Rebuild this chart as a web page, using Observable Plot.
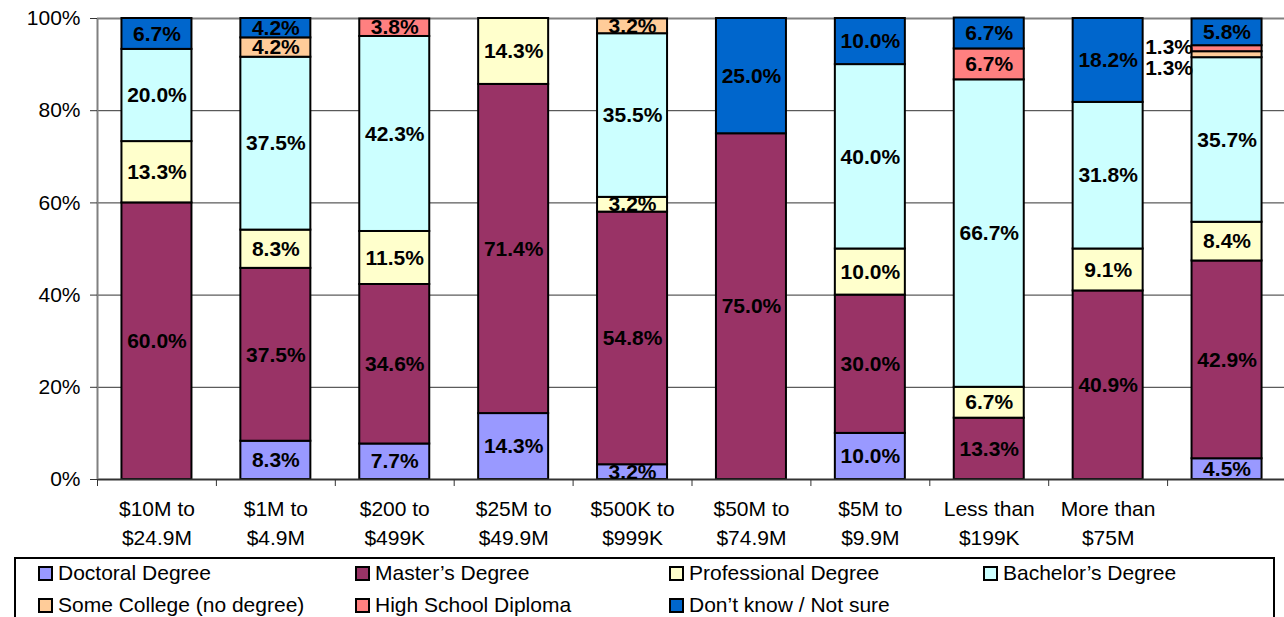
<!DOCTYPE html>
<html>
<head>
<meta charset="utf-8">
<script src="https://cdn.jsdelivr.net/npm/d3@7"></script>
<script src="https://cdn.jsdelivr.net/npm/@observablehq/plot@0.6"></script>
<style>
  html, body { margin: 0; padding: 0; background: #fff; }
  body { font-family: Arial, "Liberation Sans", sans-serif; width: 1284px; height: 617px; overflow: hidden; }
  #chart svg { display: block; }
  #legend {
    margin-left: 14px; margin-top: 4px; width: 1261px; height: 80px;
    border: 2px solid #000; box-sizing: border-box;
    display: grid; grid-template-columns: 317px 314px 314px 314px;
    grid-auto-rows: 32px; padding-left: 22px; padding-top: 0px;
    font-size: 21px; color: #000;
  }
  .item { display: flex; align-items: center; white-space: nowrap; position: relative; top: -2px; }
  .sw { width: 11px; height: 11px; border: 2px solid #000; margin-right: 5px; flex: none; }
</style>
</head>
<body>
<div id="chart"></div>
<div id="legend"></div>
<script>
const categories = ["$10M to\n$24.9M", "$1M to\n$4.9M", "$200 to\n$499K", "$25M to\n$49.9M", "$500K to\n$999K", "$50M to\n$74.9M", "$5M to\n$9.9M", "Less than\n$199K", "More than\n$75M", " "];
const series = ["Doctoral Degree", "Master’s Degree", "Professional Degree", "Bachelor’s Degree", "Some College (no degree)", "High School Diploma", "Don’t know / Not sure"];
const colors = ["#9999FF", "#993366", "#FFFFCC", "#CCFFFF", "#FFCC99", "#FF8080", "#0066CC"];
const doctoral     = [0, 8.3, 7.7, 14.3, 3.2, 0, 10.0, 0, 0, 4.5];
const masters      = [60.0, 37.5, 34.6, 71.4, 54.8, 75.0, 30.0, 13.3, 40.9, 42.9];
const professional = [13.3, 8.3, 11.5, 14.3, 3.2, 0, 10.0, 6.7, 9.1, 8.4];
const bachelors    = [20.0, 37.5, 42.3, 0, 35.5, 0, 40.0, 66.7, 31.8, 35.7];
const someCollege  = [0, 4.2, 0, 0, 3.2, 0, 0, 0, 0, 1.3];
const highSchool   = [0, 0, 3.8, 0, 0, 0, 0, 6.7, 0, 1.3];
const dontKnow     = [6.7, 4.2, 0, 0, 0, 25.0, 10.0, 6.7, 18.2, 5.8];
const yTicks = [0, 20, 40, 60, 80, 100];

const valuesBySeries = [doctoral, masters, professional, bachelors, someCollege, highSchool, dontKnow];

const rows = [];
categories.forEach((cat, i) => {
  let acc = 0;
  series.forEach((s, j) => {
    const v = valuesBySeries[j][i];
    const y1 = acc, y2 = acc + v;
    acc = y2;
    if (v > 0) rows.push({cat, series: s, value: v, y1, y2, mid: (y1 + y2) / 2, label: v.toFixed(1) + "%"});
  });
});

const W = 1284, H = 553;
const x0 = 97, x1 = 1286;
const step = (x1 - x0) / categories.length;
const inset = (step - 70) / 2;
const font = "Arial, 'Liberation Sans', sans-serif";

const big = rows.filter(d => d.value >= 2);
const smallHS = rows.filter(d => d.value < 2 && d.series === series[5]);
const smallSC = rows.filter(d => d.value < 2 && d.series === series[4]);

const plot = Plot.plot({
  width: W, height: H,
  marginTop: 18, marginBottom: 74, marginLeft: 97, marginRight: 0,
  style: {fontFamily: font, fontSize: "21px", background: "#fff", color: "#000", overflow: "visible"},
  x: {domain: categories, range: [x0, x1], padding: 0, round: false, label: null},
  y: {domain: [0, 100], label: null},
  color: {domain: series, range: colors},
  marks: [
    Plot.gridY([20, 40, 60, 80], {stroke: "#333", strokeOpacity: 1, strokeWidth: 1}),
    Plot.ruleY([100], {stroke: "#808080", strokeWidth: 2}),
    Plot.rectY(rows, {x: "cat", y1: "y1", y2: "y2", fill: "series", stroke: "#000", strokeWidth: 2, insetLeft: inset, insetRight: inset}),
    Plot.ruleY([0], {stroke: "#333", strokeWidth: 2}),
    Plot.ruleX([categories[0]], {x: d => d, dx: -step / 2, stroke: "#808080", strokeWidth: 2}),
    Plot.axisY(yTicks, {tickSize: 7, tickPadding: 10, tickFormat: d => d + "%", fontSize: 21, stroke: "#333", label: null}),
    Plot.axisX({tickSize: 7, dx: -step / 2, tickFormat: () => "", stroke: "#333", label: null}),
    Plot.axisX({tickSize: 0, tickPadding: 16, fontSize: 21, lineHeight: 1.38, tickFormat: d => d, label: null}),
    Plot.text(big, {x: "cat", y: "mid", text: "label", fontWeight: "bold", fontSize: 21, fill: "#000"}),
    Plot.text(smallHS, {x: "cat", y: "mid", text: "label", fontWeight: "bold", fontSize: 21, fill: "#000", textAnchor: "end", dx: -34, dy: -1}),
    Plot.text(smallSC, {x: "cat", y: "mid", text: "label", fontWeight: "bold", fontSize: 21, fill: "#000", textAnchor: "end", dx: -34, dy: 14})
  ]
});
document.getElementById("chart").appendChild(plot);

const legend = document.getElementById("legend");
series.forEach((s, j) => {
  const item = document.createElement("div");
  item.className = "item";
  const sw = document.createElement("span");
  sw.className = "sw";
  sw.style.background = colors[j];
  const t = document.createElement("span");
  t.textContent = s;
  item.appendChild(sw);
  item.appendChild(t);
  legend.appendChild(item);
});
</script>
</body>
</html>
